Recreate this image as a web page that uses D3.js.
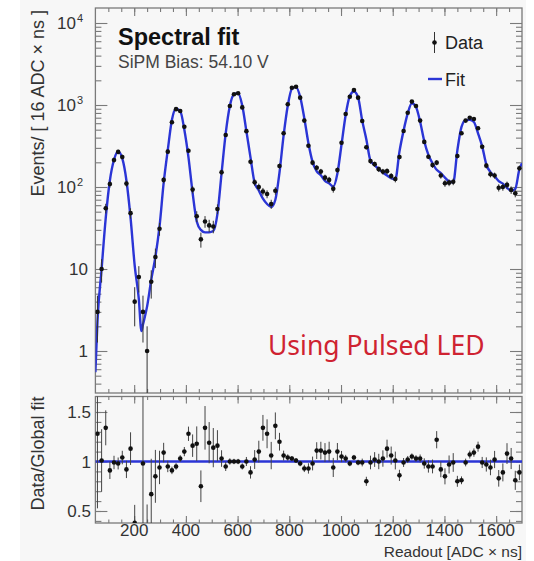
<!DOCTYPE html>
<html>
<head>
<meta charset="utf-8">
<script src="https://cdn.jsdelivr.net/npm/d3@7"></script>
<style>
  body { margin: 0; background: #fff; }
  svg { display: block; font-family: "Liberation Sans", Arial, sans-serif; }
</style>
</head>
<body>
<svg id="chart" width="534" height="561"></svg>
<script>
// bin centres, bins are 16 ADC x ns wide
const bins = d3.range(58, 1700, 16)

// events per bin
const counts = [
  3.0, 10, 55, 109, 213, 268, 232, 110, 48, 4.0,
  8.0, 3.0, 1.0, 7.0, 14, 31, 122, 270, 615, 890,
  845, 543, 277, 93, 44, 23, 38, 34, 33, 54,
  151, 430, 973, 1350, 1390, 935, 480, 203, 114, 100,
  88, 82, 62, 90, 180, 452, 1020, 1620, 1670, 1230,
  645, 318, 198, 172, 154, 130, 122, 95, 161, 347,
  777, 1260, 1520, 1230, 638, 305, 207, 190, 165, 154,
  156, 136, 125, 232, 482, 806, 1100, 973, 645, 355,
  234, 185, 198, 138, 111, 113, 116, 239, 452, 645,
  700, 676, 520, 310, 182, 143, 138, 98, 100, 106,
  92, 84, 169
]

// global fit evaluated at the bin centres
const fitAtBins = [
  2.3, 10, 42, 120, 215, 272, 223, 120, 42, 11,
  4.3, 2.1, 3.5, 7.4, 14, 33, 112, 284, 660, 900,
  845, 500, 230, 85, 38, 30, 28, 28, 29, 47,
  147, 450, 973, 1350, 1390, 985, 480, 228, 112, 91,
  72, 62, 57, 70, 150, 426, 980, 1570, 1650, 1255,
  690, 342, 202, 155, 139, 119, 111, 101, 146, 330,
  755, 1285, 1460, 1240, 645, 380, 209, 185, 165, 150,
  138, 128, 124, 270, 487, 790, 1050, 945, 626, 362,
  246, 195, 162, 148, 130, 117, 114, 280, 540, 655,
  660, 620, 452, 313, 188, 152, 135, 118, 110, 98,
  90, 95, 165
]
// a few extra fit points: start, first dip, end
const fitExtraX = [50, 228, 1700]
const fitExtraY = [0.55, 1.75, 195]

// data / global fit (null = off scale)
const ratio = [
  1.28, 1.01, 1.34, 0.91, 0.99, 0.98, 1.04, 0.92, 1.13, 0.38,
  null, 0.98, 0.28, 0.67, 0.85, 0.94, 1.09, 0.95, 0.91, 0.95,
  1.03, 1.10, 1.28, 1.16, 1.18, 0.75, 1.34, 1.19, 1.14, 1.16,
  1.03, 0.95, 1.00, 1.00, 1.00, 0.95, 1.00, 0.89, 1.02, 1.10,
  1.34, 1.28, 1.06, 1.36, 1.20, 1.06, 1.04, 1.03, 1.01, 0.98,
  0.93, 0.93, 0.98, 1.11, 1.11, 1.09, 1.10, 0.94, 1.10, 1.05,
  1.03, 0.98, 1.04, 0.99, 0.99, 0.80, 0.99, 1.02, 1.00, 1.03,
  1.13, 1.06, 1.01, 0.86, 0.99, 1.02, 1.05, 1.03, 1.03, 0.98,
  0.95, 0.95, 1.22, 0.92, 0.85, 0.97, 0.99, 0.80, 0.81, 0.99,
  1.07, 1.09, 1.15, 0.99, 0.97, 0.94, 1.02, 0.83, 0.89, 1.08,
  1.03, 0.81, 0.89
]

const xTicks = [200, 400, 600, 800, 1000, 1200, 1400, 1600]
const yDecades = [1, 10, 100, 1000, 10000]
const ratioTicks = [0.5, 1, 1.5]
const ratioLabels = ['0.5', '1', '1.5']

const BLUE = '#2b35d6'
const FRAME = '#7a7a7a'

const x = d3.scaleLinear().domain([50, 1700]).range([95.4, 522])
const y = d3.scaleLog().domain([1, 1e4]).range([351, 23])
const yr = d3.scaleLinear().domain([0.5, 1.5]).range([511, 412])

const L = x(50), R = x(1700)
const topT = 8, topB = 393
const botT = 396.5, botB = 523

const svg = d3.select('#chart')
svg.append('rect').attr('x', 20).attr('y', 0).attr('width', 506).attr('height', 561).attr('fill', '#f7f7f7')

const defs = svg.append('defs')
defs.append('clipPath').attr('id', 'clipTop').append('rect')
  .attr('x', L).attr('y', topT).attr('width', R - L).attr('height', topB - topT)
defs.append('clipPath').attr('id', 'clipBot').append('rect')
  .attr('x', L).attr('y', botT).attr('width', R - L).attr('height', botB - botT)

const noLabels = g => {
  g.select('.domain').remove()
  g.selectAll('.tick line').attr('stroke', FRAME).attr('stroke-width', 1.1)
  g.selectAll('.tick text').remove()
}

const xMinor = d3.range(100, 1700, 50)
const ratioMinor = d3.range(4, 17).map(v => v / 10)
const logMinor = [0.4, 0.5, 0.6, 0.7, 0.8, 0.9]
  .concat(yDecades.flatMap(d => d3.range(2, 10).map(m => m * d)))
  .filter(v => y(v) > topT && y(v) < topB)

// ---------- ticks ----------
function xTickSet(yPos, axisFn, major, minor) {
  svg.append('g').attr('transform', `translate(0,${yPos})`)
    .call(axisFn(x).tickValues(xTicks).tickSize(major)).call(noLabels)
  svg.append('g').attr('transform', `translate(0,${yPos})`)
    .call(axisFn(x).tickValues(xMinor).tickSize(minor)).call(noLabels)
}
xTickSet(topB, d3.axisTop, 8, 4)
xTickSet(topT, d3.axisBottom, 8, 4)
xTickSet(botB, d3.axisTop, 7, 3.5)
xTickSet(botT, d3.axisBottom, 7, 3.5)

function yTickSet(scale, major, minor) {
  svg.append('g').attr('transform', `translate(${L},0)`)
    .call(d3.axisRight(scale).tickValues(major).tickSize(12)).call(noLabels)
  svg.append('g').attr('transform', `translate(${L},0)`)
    .call(d3.axisRight(scale).tickValues(minor).tickSize(6)).call(noLabels)
  svg.append('g').attr('transform', `translate(${R},0)`)
    .call(d3.axisLeft(scale).tickValues(major).tickSize(12)).call(noLabels)
  svg.append('g').attr('transform', `translate(${R},0)`)
    .call(d3.axisLeft(scale).tickValues(minor).tickSize(6)).call(noLabels)
}
yTickSet(y, yDecades, logMinor)
yTickSet(yr, ratioTicks, ratioMinor)

// frames
svg.append('rect').attr('x', L).attr('y', topT).attr('width', R - L).attr('height', topB - topT)
  .attr('fill', 'none').attr('stroke', FRAME).attr('stroke-width', 1.3)
svg.append('rect').attr('x', L).attr('y', botT).attr('width', R - L).attr('height', botB - botT)
  .attr('fill', 'none').attr('stroke', FRAME).attr('stroke-width', 1.3)

// ---------- tick labels ----------
const lab = svg.append('g').attr('fill', '#333').style('font-size', '17px')
lab.selectAll('text.xl').data(xTicks).enter().append('text')
  .attr('x', d => x(d)).attr('y', 536).attr('text-anchor', 'middle').text(d => d)

yDecades.forEach(d => {
  const p = Math.round(Math.log10(d))
  if (p < 2) {
    lab.append('text').attr('x', 88).attr('y', y(d) + 6).attr('text-anchor', 'end').text(d)
  } else {
    lab.append('text').attr('x', 76).attr('y', y(d) + 6).attr('text-anchor', 'end').text('10')
    lab.append('text').attr('x', 77).attr('y', y(d) - 1).style('font-size', '11px').text(p)
  }
})
lab.selectAll('text.rl').data(ratioTicks).enter().append('text')
  .attr('x', 91).attr('y', d => yr(d) + 6).attr('text-anchor', 'end').text((d, i) => ratioLabels[i])

// axis titles
svg.append('text').attr('transform', `translate(44,${topT + 2}) rotate(-90)`)
  .attr('text-anchor', 'end').attr('fill', '#333').style('font-size', '18px')
  .text('Events/ [ 16 ADC \u00d7 ns ]')
svg.append('text').attr('transform', `translate(44,${botT}) rotate(-90)`)
  .attr('text-anchor', 'end').attr('fill', '#333').style('font-size', '18px')
  .text('Data/Global fit')
svg.append('text').attr('x', R).attr('y', 557).attr('text-anchor', 'end')
  .attr('fill', '#333').style('font-size', '15.5px').text('Readout [ADC \u00d7 ns]')

// ---------- top pad ----------
const fitPts = bins.map((b, i) => [b, fitAtBins[i]])
  .concat(fitExtraX.map((v, i) => [v, fitExtraY[i]]))
  .sort((a, b) => a[0] - b[0])

const topPad = svg.append('g').attr('clip-path', 'url(#clipTop)')
topPad.append('path').datum(fitPts)
  .attr('fill', 'none').attr('stroke', BLUE).attr('stroke-width', 2.4)
  .attr('d', d3.line().x(d => x(d[0])).y(d => y(d[1])).curve(d3.curveMonotoneX))

const pts = bins.map((b, i) => ({ b, n: counts[i], f: fitAtBins[i], r: ratio[i] }))
topPad.selectAll('line.err').data(pts).enter().append('line')
  .attr('x1', d => x(d.b)).attr('x2', d => x(d.b))
  .attr('y1', d => y(Math.max(d.n - Math.sqrt(d.n), 1e-3)))
  .attr('y2', d => y(d.n + Math.sqrt(d.n)))
  .attr('stroke', '#333').attr('stroke-width', 1)
topPad.selectAll('circle').data(pts).enter().append('circle')
  .attr('cx', d => x(d.b)).attr('cy', d => y(d.n)).attr('r', 2.3).attr('fill', '#111')

// ---------- ratio pad ----------
const botPad = svg.append('g').attr('clip-path', 'url(#clipBot)')
botPad.append('line').attr('x1', L).attr('x2', R).attr('y1', yr(1)).attr('y2', yr(1))
  .attr('stroke', BLUE).attr('stroke-width', 2.6)
const rp = pts.filter(d => d.r !== null)
botPad.selectAll('line.err').data(rp).enter().append('line')
  .attr('x1', d => x(d.b)).attr('x2', d => x(d.b))
  .attr('y1', d => yr(d.r - Math.sqrt(d.n) / d.f))
  .attr('y2', d => yr(d.r + Math.sqrt(d.n) / d.f))
  .attr('stroke', '#444').attr('stroke-width', 1)
botPad.selectAll('circle').data(rp).enter().append('circle')
  .attr('cx', d => x(d.b)).attr('cy', d => yr(d.r)).attr('r', 2.3).attr('fill', '#111')

// ---------- labels & legend ----------
svg.append('text').attr('x', 118).attr('y', 45).attr('fill', '#111')
  .style('font-size', '23.5px').style('font-weight', 'bold').text('Spectral fit')
svg.append('text').attr('x', 118).attr('y', 68).attr('fill', '#444')
  .style('font-size', '17.5px').text('SiPM Bias: 54.10 V')

const lg = svg.append('g')
lg.append('line').attr('x1', 434.5).attr('x2', 434.5).attr('y1', 32).attr('y2', 53)
  .attr('stroke', '#333').attr('stroke-width', 1)
lg.append('circle').attr('cx', 434.5).attr('cy', 42.5).attr('r', 2.3).attr('fill', '#111')
lg.append('text').attr('x', 445).attr('y', 49).attr('fill', '#222').style('font-size', '18px').text('Data')
lg.append('line').attr('x1', 428).attr('x2', 442).attr('y1', 79).attr('y2', 79)
  .attr('stroke', BLUE).attr('stroke-width', 2.4)
lg.append('text').attr('x', 445).attr('y', 85.5).attr('fill', '#222').style('font-size', '18px').text('Fit')

svg.append('text').attr('x', 268).attr('y', 355).attr('fill', '#cf2331')
  .style('font-family', '"Noto Sans", "Open Sans", sans-serif').style('font-size', '26.5px')
  .text('Using Pulsed LED')
</script>
</body>
</html>
